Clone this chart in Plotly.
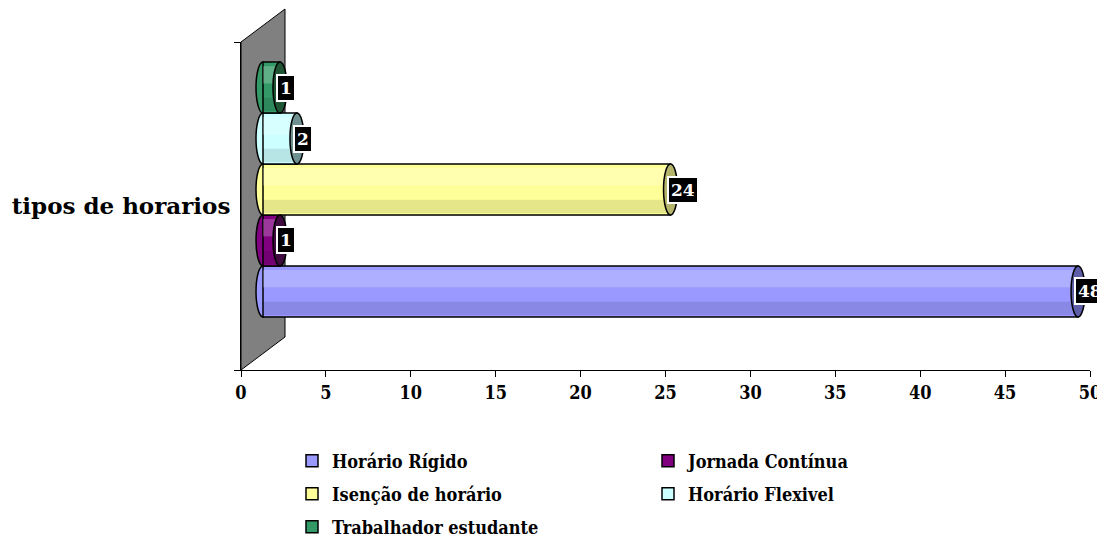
import plotly.graph_objects as go

category = "tipos de horarios"
series = ["Horário Rígido", "Jornada Contínua", "Isenção de horário",
          "Horário Flexivel", "Trabalhador estudante"]
values = [48, 1, 24, 2, 1]
colors = ["#9999FF", "#800080", "#FFFF99", "#CCFFFF", "#339966"]
cap_colors = ["#5E5EA8", "#3F0A3F", "#B4B46A", "#6F9090", "#1F5535"]
x_ticks = [0, 5, 10, 15, 20, 25, 30, 35, 40, 45, 50]
legend_rows = [0, 0, 1, 1, 2]   # legend row of each series

# page body has an 8px margin, so the figure is sized/placed to compensate
OFF = 8
W, H = 1105 - OFF, 540 - OFF
L, T = 241 - OFF, 42 - OFF
R = W - (1090 - OFF)
B = H - (370 - OFF)
pw = W - L - R
ph = H - T - B
xmax = 50
px_per_unit = pw / xmax
depth_x = 44 / px_per_unit      # 3D depth, x units
depth_y = 33 / ph               # 3D depth, fraction of plot height
bargap = 0.223
n = len(values)
bw = (1 - bargap) / n
cap_rx = 7 / px_per_unit

FONT = "DejaVu Serif Condensed, DejaVu Serif, serif"
legend_names = ["legend", "legend2", "legend3"]

fig = go.Figure()
for i, (name, v, c) in enumerate(zip(series, values, colors)):
    fig.add_trace(go.Bar(
        name=name, y=[category], x=[v], orientation="h",
        marker=dict(color=c, line=dict(color="black", width=1.5)),
        xaxis="x2", yaxis="y2", hoverinfo="x+name",
        legend=legend_names[legend_rows[i]],
    ))

shapes = []
# back wall (gray parallelogram)
shapes.append(dict(
    type="path", xref="x", yref="paper", layer="below",
    path=f"M 0 0 L 0 1 L {depth_x} {1 + depth_y} L {depth_x} {depth_y} Z",
    fillcolor="#808080", line=dict(color="black", width=1)))

annotations = []
for i, (v, c, cc) in enumerate(zip(values, colors, cap_colors)):
    yc = -(1 - bargap) / 2 + (i + 0.5) * bw
    y0, y1 = yc - bw / 2, yc + bw / 2
    # rounded left end
    shapes.append(dict(type="circle", xref="x2", yref="y2", layer="below",
                       x0=-cap_rx, x1=cap_rx, y0=y0, y1=y1,
                       fillcolor=c, line=dict(color="black", width=1.5)))
    # cylinder shading bands (highlight on top, shadow at bottom)
    shapes.append(dict(type="rect", xref="x2", yref="y2", layer="above",
                       x0=0, x1=v, y0=y1 - bw * 0.42, y1=y1 - bw * 0.08,
                       fillcolor="rgba(255,255,255,0.22)", line=dict(width=0)))
    shapes.append(dict(type="rect", xref="x2", yref="y2", layer="above",
                       x0=0, x1=v, y0=y0 + bw * 0.04, y1=y0 + bw * 0.3,
                       fillcolor="rgba(0,0,0,0.10)", line=dict(width=0)))
    # darker right cap
    shapes.append(dict(type="circle", xref="x2", yref="y2", layer="above",
                       x0=v - cap_rx, x1=v + cap_rx, y0=y0, y1=y1,
                       fillcolor=cc, line=dict(color="black", width=1.5)))
    annotations.append(dict(
        xref="x2", yref="y2", x=v, y=yc, xanchor="left", yanchor="middle",
        xshift=-4, text=str(v), showarrow=False,
        font=dict(family="DejaVu Serif, serif", size=17, color="white", weight="bold"),
        bgcolor="black", bordercolor="white", borderwidth=2, borderpad=2))

legend_font = dict(family=FONT, size=18, color="black", weight="bold")
legend_x = (292 - OFF - L) / pw
row_px = [461 - OFF, 494 - OFF, 527 - OFF]
legend_cfg = {}
for k, name in enumerate(legend_names):
    legend_cfg[name] = dict(
        orientation="h", x=legend_x, y=((H - B) - row_px[k]) / ph,
        xanchor="left", yanchor="middle",
        entrywidth=311, entrywidthmode="pixels",
        font=legend_font, bgcolor="rgba(0,0,0,0)", traceorder="normal")

fig.update_layout(
    width=W, height=H,
    margin=dict(l=L, r=R, t=T, b=B, autoexpand=False),
    paper_bgcolor="white", plot_bgcolor="rgba(0,0,0,0)",
    barmode="group", bargap=bargap, bargroupgap=0,
    showlegend=True,
    xaxis=dict(range=[0, xmax], tickvals=x_ticks, ticks="outside", ticklen=6,
               tickcolor="black", showline=True, linecolor="black", linewidth=1,
               showgrid=False, zeroline=False,
               tickfont=dict(family=FONT, size=18, color="black", weight="bold")),
    xaxis2=dict(range=[-depth_x / 2, xmax - depth_x / 2], overlaying="x",
                visible=False, showgrid=False, zeroline=False),
    yaxis=dict(range=[-0.5, 0.5], tickvals=[0], ticktext=[category], ticks="",
               showline=True, linecolor="black", linewidth=1, showgrid=False,
               zeroline=False, ticklabelstandoff=5,
               minor=dict(tickvals=[-0.5, 0.5], ticks="outside", ticklen=6, tickcolor="black"),
               tickfont=dict(family="DejaVu Serif, serif", size=23, color="black", weight="bold")),
    yaxis2=dict(type="category", range=[-0.5 - depth_y / 2, 0.5 - depth_y / 2],
                overlaying="y", visible=False, showgrid=False),
    shapes=shapes, annotations=annotations,
    **legend_cfg,
)

fig.write_html("out.html")
